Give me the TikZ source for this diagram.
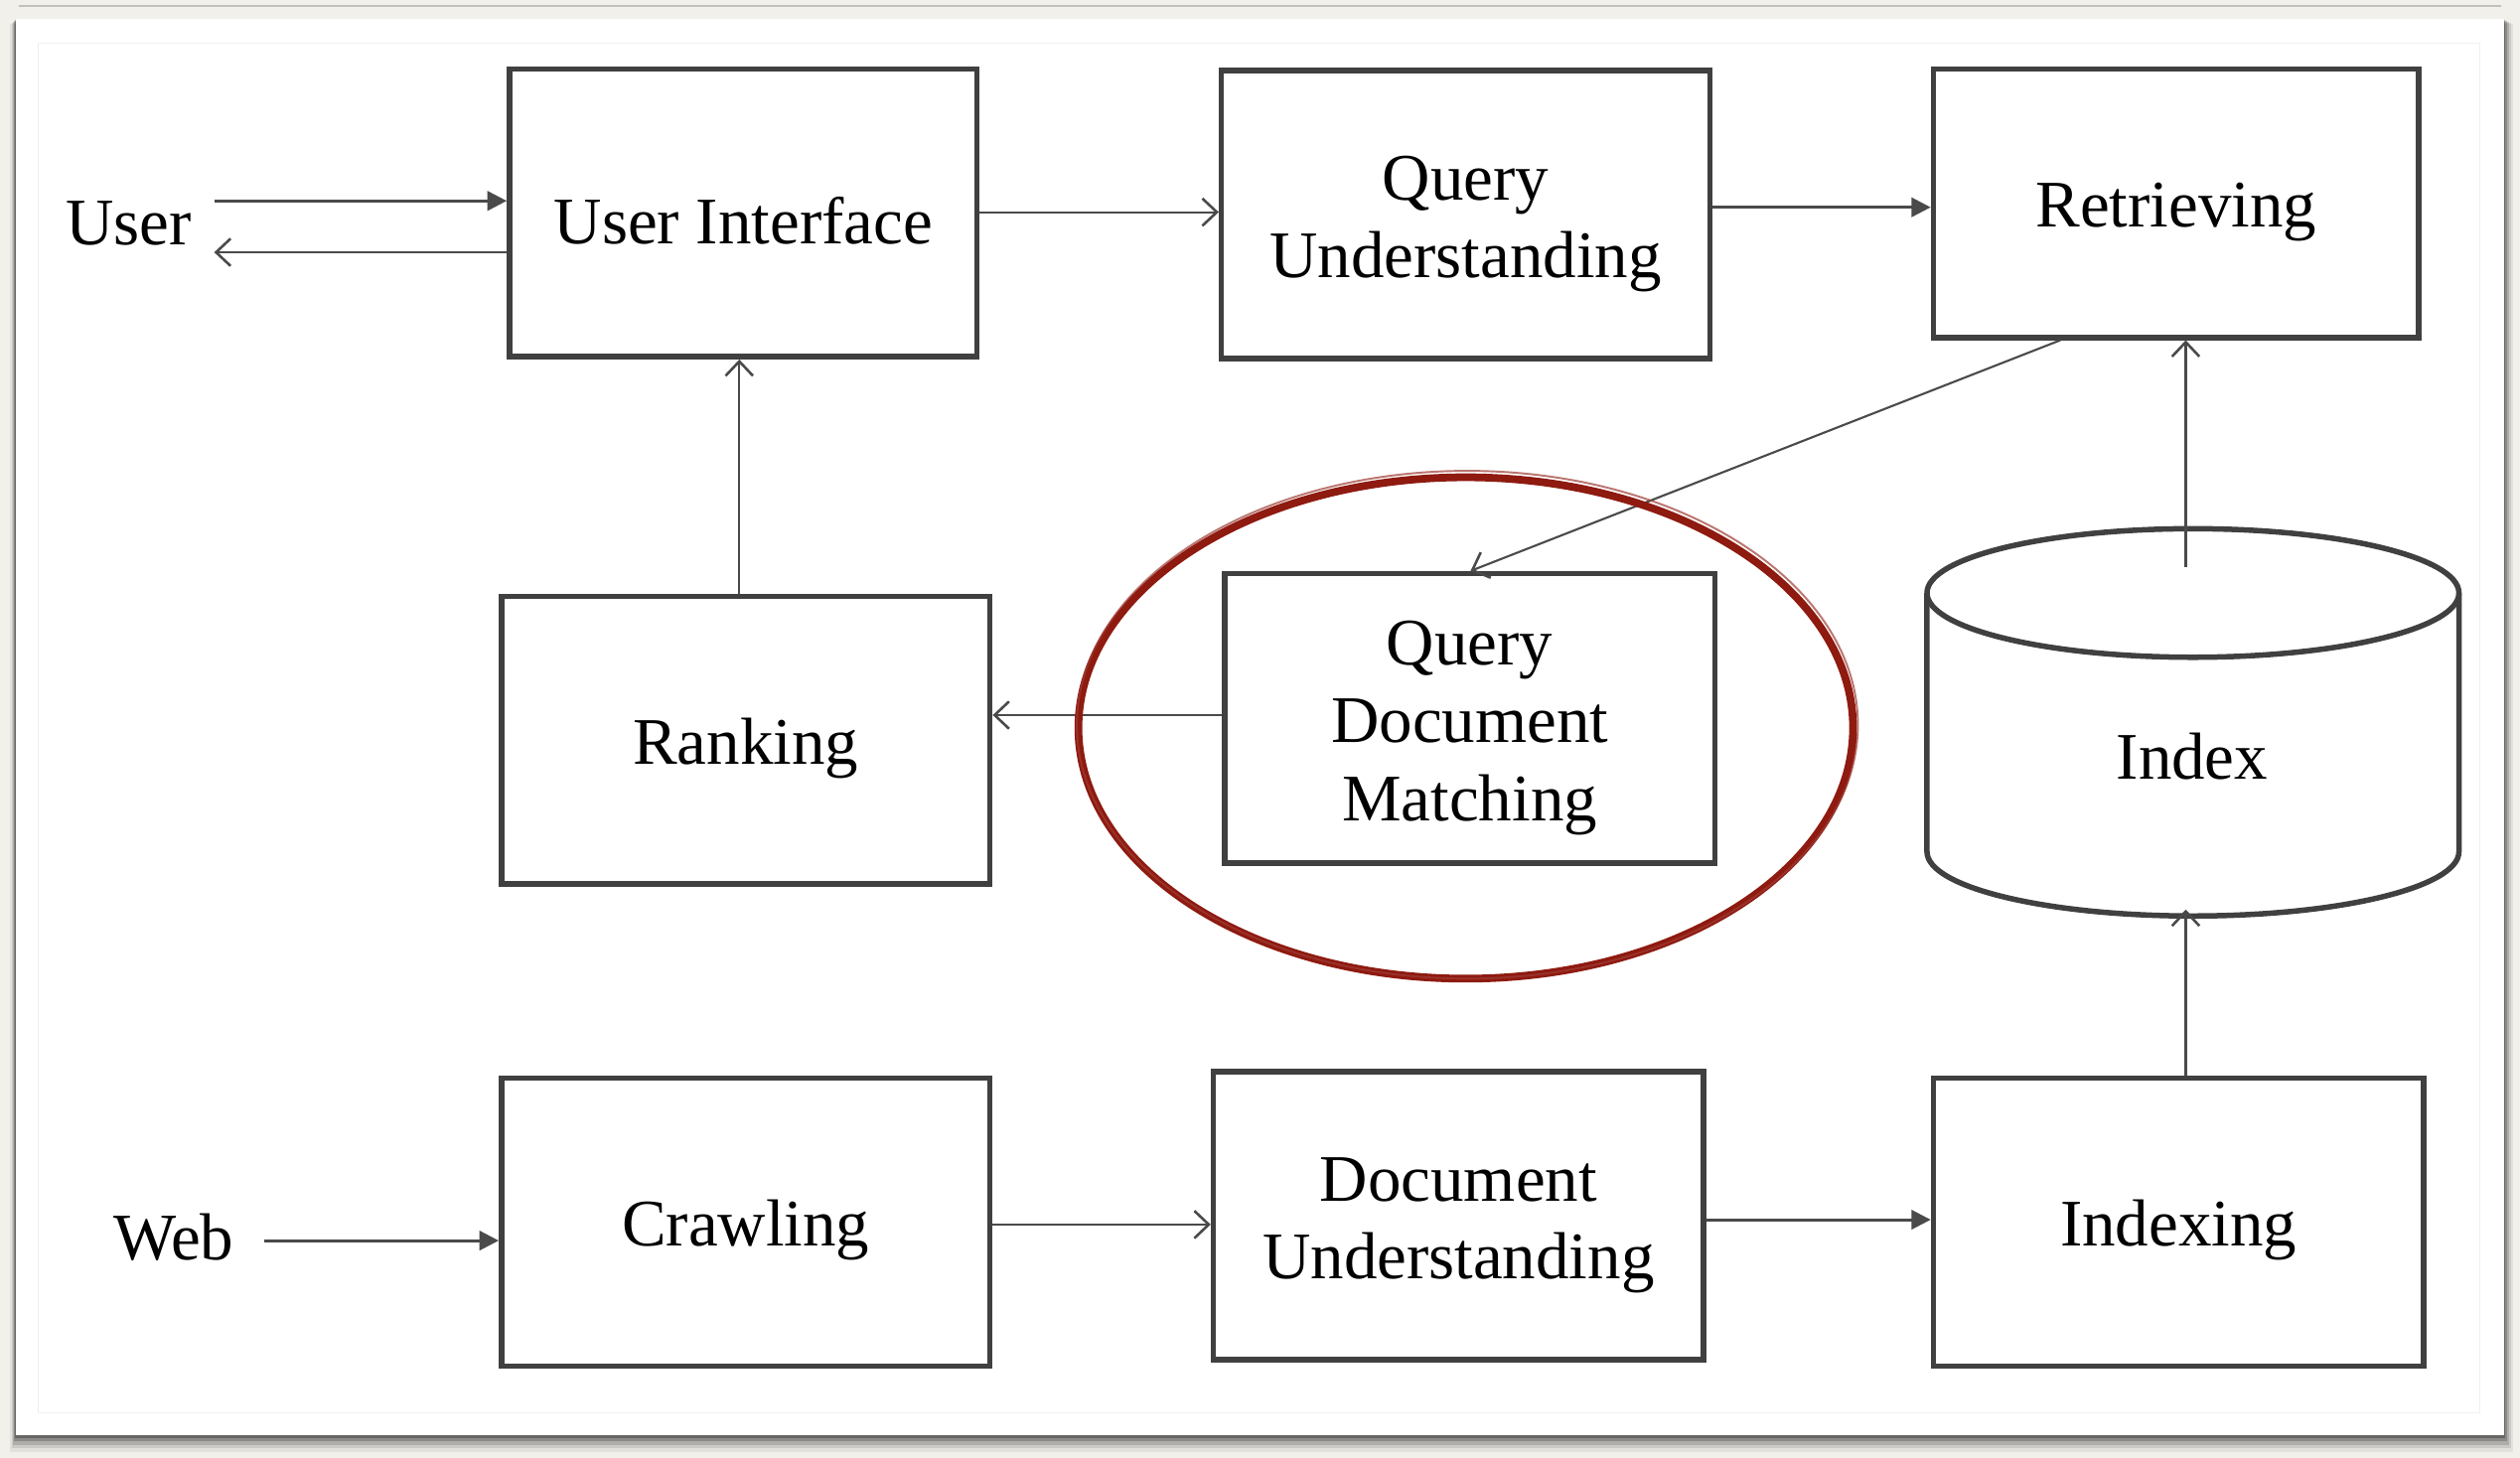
\documentclass[tikz,border=0pt]{standalone}
\usepackage{fontspec}
\setmainfont{Liberation Serif}
\usetikzlibrary{arrows.meta}

\definecolor{paper}{HTML}{F2F0EB}
\definecolor{shade}{HTML}{9A9892}
\definecolor{edge}{HTML}{404040}
\definecolor{wire}{HTML}{4A4A4A}
\definecolor{brush}{HTML}{8E1A10}

% taller first line, so that the text sits a little low in its box
\newcommand{\firstline}{\rule{0pt}{39pt}}

\tikzset{
  stage/.style={draw=edge, line width=3.4pt, fill=white, inner sep=0pt,
    align=center, font=\fontsize{41.4}{48.5}\selectfont},
  label/.style={font=\fontsize{41.4}{48.5}\selectfont, inner sep=14pt},
  openlink/.style={draw=wire, line width=1.3pt,
    -{Straight Barb[length=9pt,width=17pt,line width=1.6pt]}},
  filledlink/.style={draw=wire, line width=1.8pt,
    -{Triangle[length=12pt,width=12pt]}},
}

\begin{document}
\begin{tikzpicture}[x=1pt,y=-1pt]
  % page and card
  \useasboundingbox (0,0) rectangle (1568,907);
  \fill[paper] (0,0) rectangle (1568,907);
  \draw[shade!60, line width=1.2pt] (12,4) -- (1556,4);
  \foreach \d/\o in {9/0.06,7/0.10,5/0.14,3/0.20,1.5/0.25}
    \fill[black, opacity=\o] (10-0.4*\d,12+0.3*\d) rectangle (1558+0.6*\d,893+1.2*\d);
  \fill[white] (10,12) rectangle (1558,893);
  \draw[black!6, line width=0.8pt] (24,27) rectangle (1543,879);

  % stages
  \node[stage, minimum width=291pt, minimum height=179pt] (ui)    at (462.5,132.5) {\firstline User Interface};
  \node[stage, minimum width=304pt, minimum height=179pt] (qu)    at (912,133.5)   {\firstline Query\\Understanding};
  \node[stage, minimum width=302pt, minimum height=167pt] (ret)   at (1354,126.5)  {\firstline Retrieving};
  \node[stage, minimum width=304pt, minimum height=179pt] (rank)  at (464,460.5)   {\firstline Ranking};
  \node[stage, minimum width=305pt, minimum height=180pt] (qdm)   at (914.5,447)   {\firstline Query\\Document\\Matching};
  \node[stage, minimum width=304pt, minimum height=179pt] (crawl) at (464,760.5)   {\firstline Crawling};
  \node[stage, minimum width=305pt, minimum height=179pt] (du)    at (907.5,756.5) {\firstline Document\\Understanding};
  \node[stage, minimum width=305pt, minimum height=179pt] (idx)   at (1355.5,760.5){\firstline Indexing};

  % index store (cylinder)
  \draw[edge, line width=3.4pt, fill=white]
    (1199,369) -- (1199,530) arc[start angle=180, end angle=360, x radius=165.5pt, y radius=40pt]
    -- (1530,369) arc[start angle=0, end angle=180, x radius=165.5pt, y radius=40pt];
  \draw[edge, line width=3.4pt] (1199,369) arc[start angle=180, end angle=360, x radius=165.5pt, y radius=40pt];
  \node[label] (index) at (1364,471) {Index};
  \coordinate (indextop) at (1360,353);
  \coordinate (indexbottom) at (1360,566);

  % outside actors
  \node[label] (user) at (80,139) {User};
  \node[label, inner xsep=19pt] (web) at (108,770) {Web};

  % connectors
  \draw[filledlink] (user.east |- 0,125) -- (ui.west |- 0,125);
  \draw[openlink]   (ui.west |- 0,157) -- (user.east |- 0,157);
  \draw[openlink]   (ui.east |- 0,132) -- (qu.west |- 0,132);
  \draw[filledlink] (qu.east |- 0,129) -- (ret.west |- 0,129);
  \draw[openlink]   (ret.south -| 1282,0) -- (qdm.north -| 915,0);
  \draw[openlink]   (qdm.west |- 0,445) -- (rank.east |- 0,445);
  \draw[openlink]   (rank.north -| 460,0) -- (ui.south -| 460,0);
  \draw[openlink]   (indextop) -- (ret.south -| 1360,0);
  \draw[openlink]   (idx.north -| 1360,0) -- (indexbottom);
  \draw[filledlink] (web.east |- 0,772) -- (crawl.west |- 0,772);
  \draw[openlink]   (crawl.east |- 0,762) -- (du.west |- 0,762);
  \draw[filledlink] (du.east |- 0,759) -- (idx.west |- 0,759);

  % highlight ring
  \draw[brush, line width=4.8pt] (912,453) ellipse[x radius=241pt, y radius=156pt];
  \draw[brush!85, line width=1.2pt, opacity=0.7] (913,451) ellipse[x radius=243pt, y radius=158pt];
\end{tikzpicture}
\end{document}
